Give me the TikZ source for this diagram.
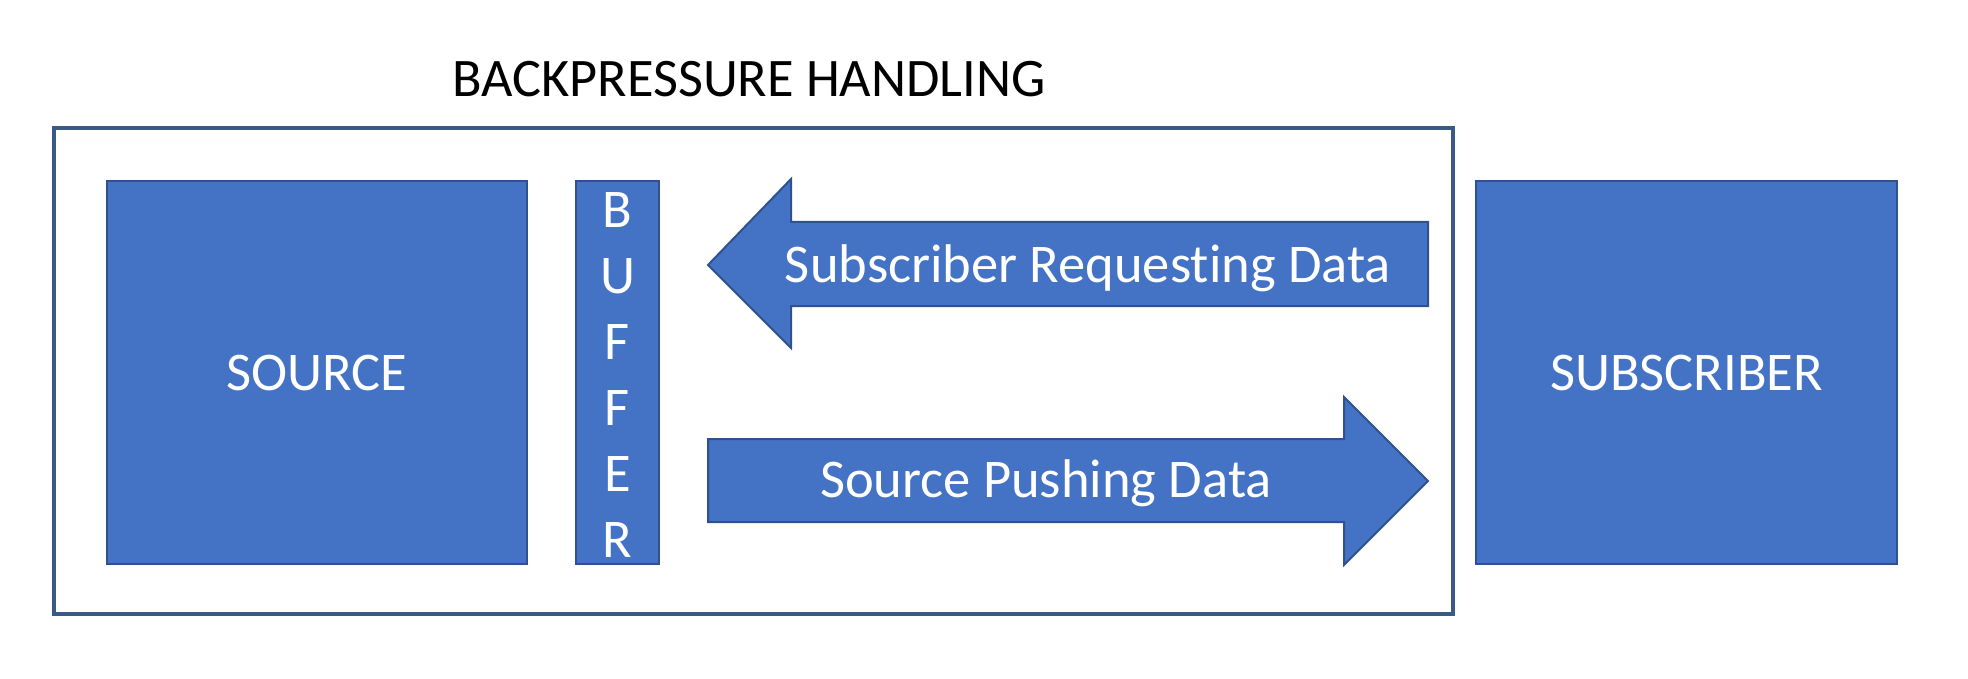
\documentclass[tikz,border=0pt]{standalone}
\usepackage{fontspec}
\setmainfont[Ligatures=NoCommon]{Carlito}
\definecolor{boxfill}{HTML}{4472C4}
\definecolor{boxline}{HTML}{2F528F}
\definecolor{frameline}{HTML}{3A5A85}
\begin{document}
\begin{tikzpicture}[x=1pt,y=-1pt,
  bluebox/.style={draw=boxline,line width=2pt,fill=boxfill},
  boxtext/.style={text=white,font=\fontsize{54.5}{64}\selectfont,inner sep=0pt},
  arrowtext/.style={text=white,font=\fontsize{54.5}{64}\selectfont,inner sep=0pt}]
\useasboundingbox (0,0) rectangle (1968,679);
% title
\node[font=\fontsize{54.3}{64}\selectfont,inner sep=0pt,anchor=base] (title) at (749,97) {BACKPRESSURE HANDLING};
% frame
\draw[draw=frameline,line width=3.5pt] (54,128) rectangle (1453,614);
% source
\draw[bluebox] (107,181) rectangle (527,564);
\node[boxtext] (source) at (317,373) {SOURCE};
% buffer
\draw[bluebox] (576,181) rectangle (659,564);
\node[boxtext,align=center,font=\fontsize{54.5}{66}\selectfont] (buffer) at (617.5,375) {B\\U\\F\\F\\E\\R};
% subscriber
\draw[bluebox] (1476,181) rectangle (1897,564);
\node[boxtext] (subscriber) at (1686.5,373) {SUBSCRIBER};
% top arrow (pointing left)
\draw[bluebox] (708,265) -- (791,179) -- (791,222) -- (1428,222) -- (1428,306) -- (791,306) -- (791,348) -- cycle;
\node[arrowtext] (req) at (1088,268) {Subscriber Requesting Data};
% bottom arrow (pointing right)
\draw[bluebox] (708,439) -- (1344,439) -- (1344,397) -- (1428,481) -- (1344,565) -- (1344,522) -- (708,522) -- cycle;
\node[arrowtext] (push) at (1046,483) {Source Pushing Data};
\end{tikzpicture}
\end{document}
